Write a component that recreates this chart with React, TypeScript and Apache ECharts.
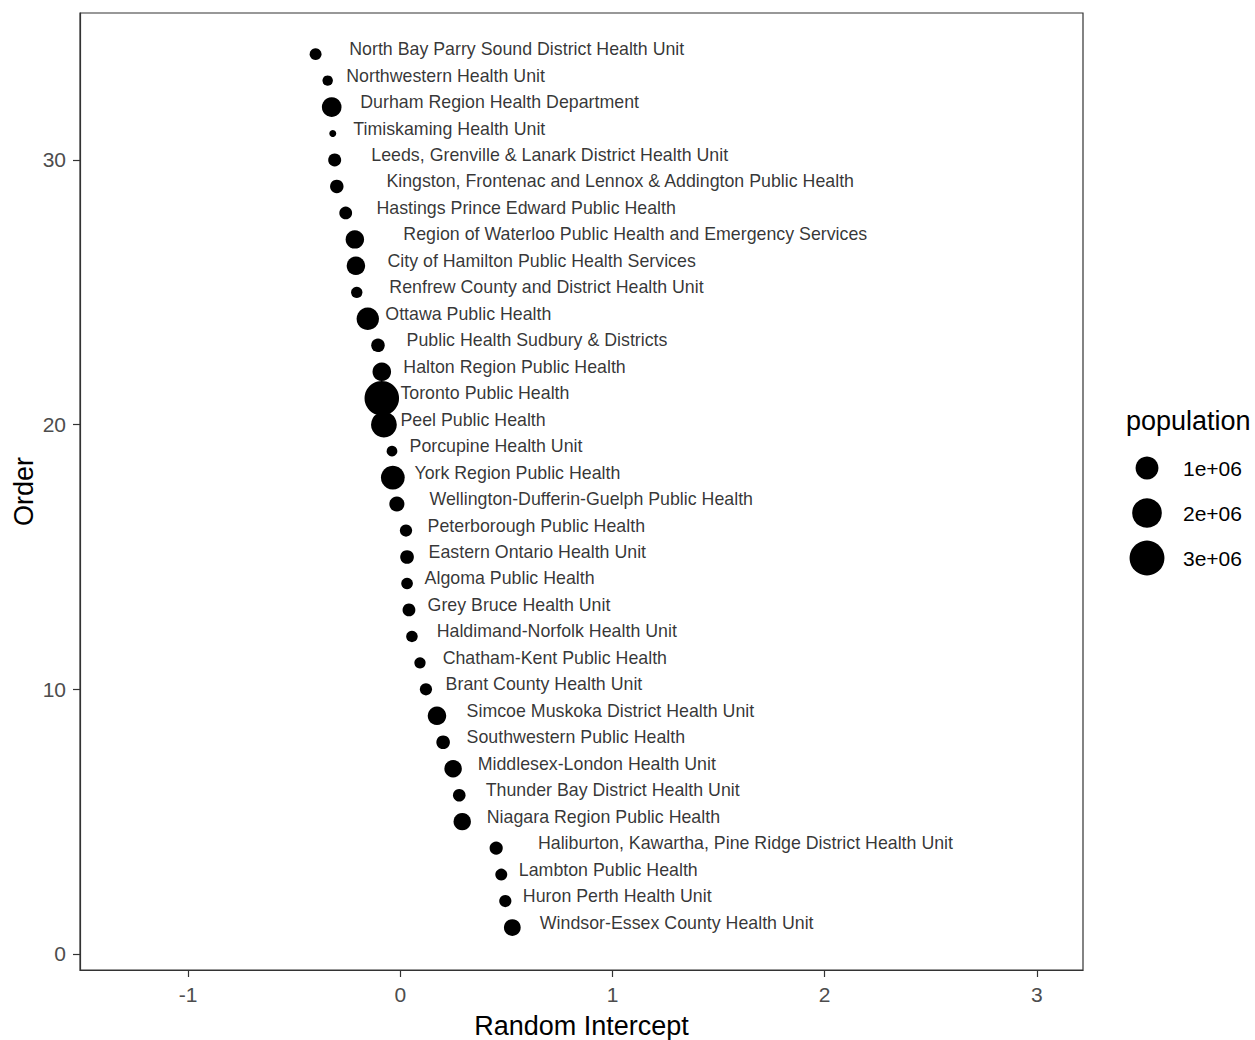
import React, { useEffect, useRef } from "react";
import * as echarts from "echarts";

// Health units, listed by their Order value (1 = bottom, 34 = top)
const unitNames: string[] = [
  "Windsor-Essex County Health Unit",
  "Huron Perth Health Unit",
  "Lambton Public Health",
  "Haliburton, Kawartha, Pine Ridge District Health Unit",
  "Niagara Region Public Health",
  "Thunder Bay District Health Unit",
  "Middlesex-London Health Unit",
  "Southwestern Public Health",
  "Simcoe Muskoka District Health Unit",
  "Brant County Health Unit",
  "Chatham-Kent Public Health",
  "Haldimand-Norfolk Health Unit",
  "Grey Bruce Health Unit",
  "Algoma Public Health",
  "Eastern Ontario Health Unit",
  "Peterborough Public Health",
  "Wellington-Dufferin-Guelph Public Health",
  "York Region Public Health",
  "Porcupine Health Unit",
  "Peel Public Health",
  "Toronto Public Health",
  "Halton Region Public Health",
  "Public Health Sudbury & Districts",
  "Ottawa Public Health",
  "Renfrew County and District Health Unit",
  "City of Hamilton Public Health Services",
  "Region of Waterloo Public Health and Emergency Services",
  "Hastings Prince Edward Public Health",
  "Kingston, Frontenac and Lennox & Addington Public Health",
  "Leeds, Grenville & Lanark District Health Unit",
  "Timiskaming Health Unit",
  "Durham Region Health Department",
  "Northwestern Health Unit",
  "North Bay Parry Sound District Health Unit",
];

const orderValues: number[] = [
  1, 2, 3, 4, 5, 6, 7, 8, 9, 10, 11, 12, 13, 14, 15, 16, 17, 18, 19, 20, 21,
  22, 23, 24, 25, 26, 27, 28, 29, 30, 31, 32, 33, 34,
];

const randomIntercept: number[] = [
  0.528, 0.495, 0.476, 0.452, 0.292, 0.278, 0.249, 0.202, 0.173, 0.121, 0.093,
  0.055, 0.041, 0.032, 0.032, 0.027, -0.016, -0.035, -0.039, -0.077, -0.087,
  -0.087, -0.105, -0.153, -0.205, -0.209, -0.214, -0.257, -0.299, -0.309,
  -0.318, -0.323, -0.342, -0.399,
];

const population: number[] = [
  398953, 136993, 126638, 179083, 447888, 151884, 455526, 199000, 540249,
  134943, 102042, 109652, 161977, 114094, 202762, 138236, 284461, 1109909,
  84201, 1381744, 2930000, 548435, 196448, 934243, 103593, 536917, 535154,
  161180, 193363, 169244, 32251, 645862, 76455, 123820,
];

// x position (in Random Intercept units) where each text label starts
const labelStartX: number[] = [
  0.66, 0.58, 0.561, 0.651, 0.41, 0.405, 0.367, 0.315, 0.315, 0.216, 0.202,
  0.174, 0.131, 0.117, 0.136, 0.131, 0.14, 0.069, 0.046, 0.003, 0.003, 0.017,
  0.032, -0.068, -0.049, -0.058, 0.017, -0.11, -0.063, -0.134, -0.219, -0.186,
  -0.252, -0.238,
];

const xTicks: number[] = [-1, 0, 1, 2, 3];
const yTicks: number[] = [0, 10, 20, 30];
const legendValues: number[] = [1e6, 2e6, 3e6];
const legendLabels: string[] = ["1e+06", "2e+06", "3e+06"];

const FONT = "'Liberation Sans', Arial, sans-serif";

const popMin = Math.min(...population);
const popMax = Math.max(...population);
// ggplot-like area scale: size range 1..6
const diameter = (p: number) =>
  5.5 * (1 + 5 * Math.sqrt(Math.max(0, p - popMin) / (popMax - popMin))) + 1.5;

export default function App() {
  const ref = useRef<HTMLDivElement>(null);

  useEffect(() => {
    document.body.style.margin = "0";
    if (!ref.current) return;
    const chart = echarts.init(ref.current, undefined, { renderer: "svg" });

    const pointData = orderValues.map((o, i) => [
      randomIntercept[i],
      o,
      population[i],
      unitNames[i],
    ]);
    const labelData = orderValues.map((o, i) => [labelStartX[i], o, unitNames[i]]);

    const legendX = 1126;
    const legendTitleY = 421;
    const legendRowY = [468, 513, 558];

    const axisCommon = {
      type: "value" as const,
      splitLine: { show: false },
      axisLine: { show: true, onZero: false, lineStyle: { color: "#333", width: 1.2 } },
      nameLocation: "middle" as const,
      nameMoveOverlap: false,
      nameTextStyle: { fontSize: 27, color: "#000", fontFamily: FONT },
    };

    chart.setOption({
      animation: false,
      backgroundColor: "#fff",
      grid: {
        left: 80,
        right: 172,
        top: 13,
        bottom: 70,
        outerBoundsMode: "none",
        containLabel: false,
        show: true,
        borderColor: "#333",
        borderWidth: 1.2,
        backgroundColor: "transparent",
      },
      xAxis: {
        ...axisCommon,
        min: -1.509,
        max: 3.217,
        name: "Random Intercept",
        nameGap: 42,
        axisTick: {
          show: true,
          length: 7,
          customValues: xTicks,
          lineStyle: { color: "#333", width: 1.2 },
        },
        axisLabel: {
          customValues: xTicks,
          color: "#4d4d4d",
          fontSize: 21,
          fontFamily: FONT,
          margin: 14,
        },
      },
      yAxis: {
        ...axisCommon,
        min: -0.605,
        max: 35.554,
        name: "Order",
        nameGap: 43,
        axisTick: {
          show: true,
          length: 7,
          customValues: yTicks,
          lineStyle: { color: "#333", width: 1.2 },
        },
        axisLabel: {
          customValues: yTicks,
          color: "#4d4d4d",
          fontSize: 21,
          fontFamily: FONT,
          margin: 14,
        },
      },
      series: [
        {
          type: "scatter",
          data: pointData,
          symbol: "circle",
          symbolSize: (v: any[]) => diameter(v[2]),
          itemStyle: { color: "#000", opacity: 1 },
          silent: true,
          z: 2,
        },
        {
          type: "scatter",
          data: labelData,
          symbolSize: 1,
          itemStyle: { color: "rgba(0,0,0,0)" },
          silent: true,
          z: 3,
          label: {
            show: true,
            position: "right",
            distance: 0,
            offset: [-1, -5],
            formatter: (p: any) => p.data[2],
            color: "#000",
            fontSize: 17.8,
            fontFamily: FONT,
          },
        },
      ],
      graphic: [
        {
          type: "text",
          x: legendX,
          y: legendTitleY,
          style: {
            text: "population",
            fill: "#000",
            font: `27px ${FONT}`,
            align: "left",
            verticalAlign: "middle",
          },
        },
        ...legendValues.map((v, i) => ({
          type: "circle",
          shape: { cx: 1147, cy: legendRowY[i], r: diameter(v) / 2 },
          style: { fill: "#000" },
        })),
        ...legendLabels.map((t, i) => ({
          type: "text",
          x: 1183,
          y: legendRowY[i],
          style: {
            text: t,
            fill: "#000",
            font: `21px ${FONT}`,
            align: "left",
            verticalAlign: "middle",
          },
        })),
      ],
    });

    return () => chart.dispose();
  }, []);

  return <div ref={ref} style={{ width: 1255, height: 1040 }} />;
}
